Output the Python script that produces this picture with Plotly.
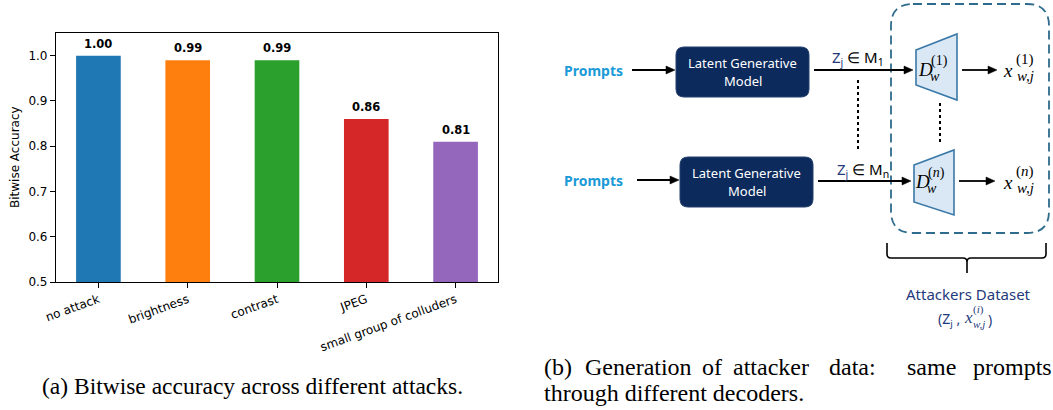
import plotly.graph_objects as go

W, H = 1053, 410

# ---- bar chart data ----
categories = ["no attack", "brightness", "contrast", "JPEG", "small group of colluders"]
accuracy = [1.00, 0.99, 0.99, 0.86, 0.81]
bar_colors = ["#1f77b4", "#ff7f0e", "#2ca02c", "#d62728", "#9467bd"]
y_ticks = [0.5, 0.6, 0.7, 0.8, 0.9, 1.0]

# ---- caption text ----
caption_a = "(a) Bitwise accuracy across different attacks."
caption_b_line1 = ["(b)", "Generation", "of", "attacker", "data:", "same", "prompts"]
caption_b_line1_x = [542, 583, 700, 731, 827, 905, 971]
caption_b_line2 = "through different decoders."

fig = go.Figure()

fig.add_trace(go.Bar(
    x=categories, y=accuracy, width=0.5,
    marker=dict(color=bar_colors, line=dict(width=0)),
    xaxis="x", yaxis="y", showlegend=False, hoverinfo="skip",
))

# invisible trace to create a pixel-space overlay for the diagram
fig.add_trace(go.Scatter(x=[None], y=[None], xaxis="x2", yaxis="y2",
                         showlegend=False, hoverinfo="skip"))

axis_font = dict(family="DejaVu Sans", size=12, color="black")

fig.update_layout(
    width=W, height=H,
    margin=dict(l=0, r=0, t=0, b=0, autoexpand=False),
    paper_bgcolor="white",
    plot_bgcolor="rgba(0,0,0,0)",
    xaxis=dict(
        domain=[56 / W, 498 / W], anchor="y", automargin=False,
        type="category", range=[-0.475, 4.475],
        showline=True, linecolor="black", linewidth=1.2, mirror=True,
        ticks="outside", ticklen=5, tickwidth=1, tickcolor="black",
        tickangle=-20, tickfont=axis_font, showgrid=False, zeroline=False,
    ),
    yaxis=dict(
        domain=[1 - 282 / H, 1 - 33 / H], anchor="x", automargin=False,
        range=[0.5, 1.05], tickvals=y_ticks,
        ticktext=[f"{t:.1f}" for t in y_ticks],
        showline=True, linecolor="black", linewidth=1.2, mirror=True,
        ticks="outside", ticklen=5, tickwidth=1, tickcolor="black",
        tickfont=axis_font, showgrid=False, zeroline=False,
    ),
    xaxis2=dict(domain=[0, 1], range=[0, W], visible=False, anchor="y2",
                fixedrange=True, automargin=False),
    yaxis2=dict(domain=[0, 1], range=[H, 0], visible=False, anchor="x2",
                fixedrange=True, automargin=False),
)

# value labels above the bars
for cat, v in zip(categories, accuracy):
    fig.add_annotation(x=cat, y=v, xref="x", yref="y", text=f"<b>{v:.2f}</b>",
                       showarrow=False, yanchor="bottom", yshift=3,
                       font=dict(family="DejaVu Sans", size=11.5, color="black"))

# y axis title
fig.add_annotation(x=15, y=157, xref="x2", yref="y2", text="Bitwise Accuracy",
                   textangle=-90, showarrow=False,
                   font=dict(family="DejaVu Sans", size=12, color="black"))


def text(x, y, s, size, color="black", family="Noto Sans",
         xanchor="center", yanchor="middle"):
    fig.add_annotation(x=x, y=y, xref="x2", yref="y2", text=s, showarrow=False,
                       xanchor=xanchor, yanchor=yanchor,
                       font=dict(family=family, size=size, color=color))


def arrow(x0, y, x1, head=9, half=4):
    # horizontal arrow: shaft plus a filled triangular head ending at x1
    fig.add_shape(type="line", x0=x0, y0=y, x1=x1 - head + 1, y1=y,
                  xref="x2", yref="y2", line=dict(color="black", width=1.8))
    fig.add_shape(type="path",
                  path=f"M {x1 - head},{y - half} L {x1},{y} L {x1 - head},{y + half} Z",
                  xref="x2", yref="y2", fillcolor="black",
                  line=dict(color="black", width=0.5))


def rounded_rect(x0, y0, x1, y1, r):
    return (f"M {x0 + r},{y0} L {x1 - r},{y0} Q {x1},{y0} {x1},{y0 + r} "
            f"L {x1},{y1 - r} Q {x1},{y1} {x1 - r},{y1} "
            f"L {x0 + r},{y1} Q {x0},{y1} {x0},{y1 - r} "
            f"L {x0},{y0 + r} Q {x0},{y0} {x0 + r},{y0} Z")


NAVY = "#0c2a5c"
PROMPT_BLUE = "#1a9ad6"
DEC_FILL = "#dae8f5"
DEC_LINE = "#3a78a8"
DASH_COLOR = "#2e6b8c"
LABEL_BLUE = "#1f3b7c"
SERIF = "Liberation Serif"

# attackers dataset dashed region
fig.add_shape(type="path", path=rounded_rect(891, 4, 1049, 233, 22),
              xref="x2", yref="y2", line=dict(color=DASH_COLOR, width=1.8, dash="9px,5px"),
              fillcolor="rgba(0,0,0,0)")

# generator boxes
for (bx0, by0, bx1, by1) in [(676, 47, 809, 97), (680, 157, 813, 207)]:
    fig.add_shape(type="path", path=rounded_rect(bx0, by0, bx1, by1, 8),
                  xref="x2", yref="y2", fillcolor=NAVY,
                  line=dict(color="#24406e", width=1))
    cx = (bx0 + bx1) / 2
    text(cx, by0 + 16, "Latent Generative", 13, "white")
    text(cx, by0 + 34, "Model", 13, "white")

# prompts + arrows into the generators
text(593, 70, "<b>Prompts</b>", 14, PROMPT_BLUE)
text(593, 180, "<b>Prompts</b>", 14, PROMPT_BLUE)
arrow(632, 70, 675)
arrow(637, 180, 679)

# latent arrows to decoders
arrow(814, 70, 913)
arrow(818, 181, 911)
text(858, 58, f"<span style='color:{LABEL_BLUE}'>Z<sub>j</sub></span> ∈ M<sub>1</sub>", 15)
text(863, 170, f"<span style='color:{LABEL_BLUE}'>Z<sub>j</sub></span> ∈ M<sub>n</sub>", 15)

# dotted connectors
fig.add_shape(type="line", x0=858, y0=80, x1=858, y1=152, xref="x2", yref="y2",
              line=dict(color="black", width=2, dash="dot"))
fig.add_shape(type="line", x0=940, y0=103, x1=940, y1=143, xref="x2", yref="y2",
              line=dict(color="black", width=2, dash="dot"))

# decoders
fig.add_shape(type="path", path="M 916,50 L 957,34 L 957,100 L 916,85 Z",
              xref="x2", yref="y2", fillcolor=DEC_FILL, line=dict(color=DEC_LINE, width=1.6))
fig.add_shape(type="path", path="M 914,165 L 954,150 L 954,215 L 914,202 Z",
              xref="x2", yref="y2", fillcolor=DEC_FILL, line=dict(color=DEC_LINE, width=1.6))

for (dx, dy, idx) in [(925, 69, "1"), (922, 181, "n")]:
    text(dx, dy, "<i>D</i>", 19, family=SERIF)
    text(dx + 14, dy - 8, f"(<i>{idx}</i>)" if idx == "n" else f"({idx})", 14, family=SERIF)
    text(dx + 10, dy + 7, "<i>w</i>", 14, family=SERIF)

# decoder outputs
arrow(962, 70, 997)
arrow(959, 181, 995)
for (ox, oy, idx) in [(1008, 70, "1"), (1008, 182, "n")]:
    text(ox, oy, "<i>x</i>", 19, family=SERIF)
    text(ox + 17, oy - 11, f"(<i>{idx}</i>)" if idx == "n" else f"({idx})", 15, family=SERIF)
    text(ox + 17, oy + 6, "<i>w,j</i>", 15, family=SERIF)

# brace under the dataset region
fig.add_shape(type="path",
              path=("M 887,243 L 887,254 Q 887,258 891,258 L 963,258 "
                    "Q 967,258 967,262 L 967,273 M 967,262 Q 967,258 971,258 "
                    "L 1042,258 Q 1046,258 1046,254 L 1046,243"),
              xref="x2", yref="y2", line=dict(color="black", width=1.6))

text(968, 294, "Attackers Dataset", 15, LABEL_BLUE)
text(949, 319, "(Z<sub>j</sub> ,", 14, LABEL_BLUE, xanchor="center")
text(968, 317, "<i>x</i>", 17, LABEL_BLUE, family=SERIF)
text(978, 309, "(<i>i</i>)", 11, LABEL_BLUE, family=SERIF)
text(979, 324, "<i>w,j</i>", 11, LABEL_BLUE, family=SERIF)
text(990, 319, ")", 14, LABEL_BLUE)

# captions
text(40, 386, caption_a, 23.5, family=SERIF, xanchor="left")
for w, wx in zip(caption_b_line1, caption_b_line1_x):
    text(wx, 367, w, 24, family=SERIF, xanchor="left")
text(542, 393, caption_b_line2, 24, family=SERIF, xanchor="left")

fig.write_html("out.html")
